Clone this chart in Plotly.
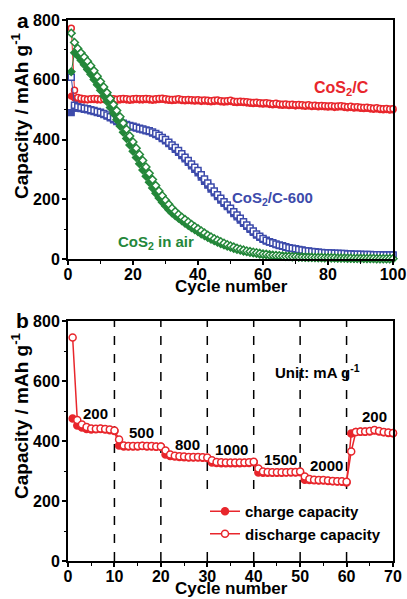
import plotly.graph_objects as go

# ---------------- Panel a: cycling of three materials ----------------
cosc_discharge = [772, 565, 541, 538, 536, 535, 536, 537, 536, 535,
                  536, 537, 536, 536, 535, 536, 537, 536, 535, 536,
                  537, 536, 536, 537, 536, 535, 536, 537, 538, 536,
                  535, 534, 535, 536, 534, 533, 534, 533, 532, 533,
                  531, 532, 531, 530, 531, 532, 530, 529, 530, 531,
                  528, 527, 528, 527, 526, 525, 524, 525, 523, 522,
                  523, 521, 520, 521, 519, 518, 519, 517, 518, 516,
                  517, 516, 515, 516, 514, 515, 513, 514, 513, 512,
                  513, 511, 512, 513, 511, 510, 511, 509, 510, 508,
                  507, 508, 506, 505, 506, 504, 503, 504, 502, 503]
cosc_charge = [545, 538, 535, 533, 532, 532, 533, 533, 532, 532,
               533, 533, 532, 532, 531, 532, 533, 532, 531, 532,
               533, 532, 532, 533, 532, 531, 532, 533, 534, 532,
               531, 530, 531, 532, 530, 529, 530, 529, 528, 529,
               527, 528, 527, 526, 527, 528, 526, 525, 526, 527,
               524, 523, 524, 523, 522, 521, 520, 521, 519, 518,
               519, 517, 516, 517, 515, 514, 515, 513, 514, 512,
               513, 512, 511, 512, 510, 511, 509, 510, 509, 508,
               509, 507, 508, 509, 507, 506, 507, 505, 506, 504,
               503, 504, 502, 501, 502, 500, 499, 500, 498, 499]
c600_discharge = [608, 515, 510, 507, 505, 503, 500, 497, 494, 491,
                  487, 482, 476, 470, 464, 458, 454, 450, 447, 444,
                  441, 438, 435, 432, 429, 425, 420, 414, 407, 400,
                  391, 382, 373, 363, 352, 341, 330, 318, 307, 296,
                  282, 268, 254, 241, 228, 215, 203, 192, 181, 170,
                  158, 147, 136, 125, 114, 104, 94, 84, 76, 69,
                  63, 58, 54, 50, 47, 44, 41, 38, 36, 34,
                  32, 30, 28, 27, 25, 24, 23, 22, 21, 20,
                  20, 19, 19, 18, 18, 17, 17, 16, 16, 16,
                  15, 15, 15, 14, 14, 14, 13, 13, 13, 13]
c600_charge = [490, 505, 505, 503, 501, 499, 496, 493, 490, 487,
               483, 478, 472, 466, 460, 455, 451, 447, 444, 441,
               438, 435, 432, 429, 426, 421, 416, 410, 403, 395,
               386, 377, 367, 357, 346, 335, 323, 312, 300, 288,
               274, 260, 247, 234, 221, 209, 197, 186, 175, 164,
               152, 141, 130, 119, 109, 99, 89, 80, 72, 66,
               60, 56, 52, 48, 45, 42, 39, 37, 35, 33,
               31, 29, 27, 26, 24, 23, 22, 21, 20, 19,
               19, 18, 18, 17, 17, 16, 16, 15, 15, 15,
               14, 14, 14, 13, 13, 13, 12, 12, 12, 12]
air_discharge = [756, 725, 705, 690, 676, 662, 647, 630, 612, 594,
                 576, 557, 537, 517, 497, 476, 455, 434, 412, 392,
                 371, 350, 330, 308, 287, 266, 246, 228, 212, 197,
                 183, 170, 159, 149, 140, 132, 124, 116, 108, 101,
                 94, 87, 80, 74, 68, 63, 58, 53, 48, 44,
                 40, 36, 33, 30, 27, 25, 23, 21, 19, 17,
                 16, 14, 13, 12, 11, 10, 9, 9, 8, 8,
                 7, 7, 6, 6, 6, 5, 5, 5, 4, 4,
                 4, 4, 3, 3, 3, 3, 3, 2, 2, 2,
                 2, 2, 2, 2, 1, 1, 1, 1, 1, 1]
air_charge = [627, 690, 680, 665, 650, 634, 618, 601, 583, 565,
              546, 527, 507, 487, 466, 445, 424, 403, 382, 361,
              340, 319, 298, 277, 257, 238, 220, 204, 190, 177,
              165, 154, 145, 136, 128, 120, 112, 105, 98, 91,
              84, 78, 72, 66, 61, 56, 51, 47, 43, 39,
              35, 32, 29, 26, 24, 22, 20, 18, 16, 15,
              14, 13, 12, 11, 10, 9, 8, 8, 7, 7,
              6, 6, 6, 5, 5, 5, 4, 4, 4, 4,
              3, 3, 3, 3, 3, 2, 2, 2, 2, 2,
              2, 1, 1, 1, 1, 1, 1, 1, 1, 1]

# ---------------- Panel b: rate capability ----------------
rate_charge = [475, 452, 445, 440, 438, 439, 440, 438, 436, 433,
               385, 382, 382, 382, 382, 383, 382, 382, 381, 381,
               355, 350, 348, 347, 346, 345, 345, 345, 344, 343,
               328, 327, 326, 326, 326, 326, 326, 327, 327, 329,
               295, 294, 294, 294, 294, 294, 295, 295, 295, 296,
               271, 270, 269, 268, 268, 267, 266, 265, 264, 262,
               425, 430, 431, 431, 432, 435, 432, 429, 427, 426]
rate_discharge = [745, 470, 455, 447, 442, 441, 442, 440, 438, 435,
                  405, 385, 383, 383, 383, 384, 383, 383, 382, 382,
                  368, 355, 351, 349, 348, 347, 347, 347, 346, 345,
                  336, 330, 329, 328, 328, 328, 328, 328, 329, 331,
                  308, 298, 297, 296, 296, 296, 296, 297, 297, 298,
                  282, 273, 271, 270, 270, 268, 267, 266, 266, 264,
                  365, 430, 432, 432, 433, 437, 433, 430, 428, 427]
rate_boundaries = [10, 20, 30, 40, 50, 60]
rate_labels = ["200", "500", "800", "1000", "1500", "2000", "200"]

RED = "#e8262c"
BLUE = "#3d4bab"
GREEN = "#24873a"

fig = go.Figure()


def add_material(chg, dis, color, sym):
    fig.add_trace(go.Scatter(
        x=list(range(1, len(chg) + 1)), y=chg, mode="lines+markers", showlegend=False,
        line=dict(color=color, width=1), cliponaxis=False,
        marker=dict(symbol=sym, size=6, color=color, line=dict(color=color, width=1.2)),
        xaxis="x", yaxis="y"))
    fig.add_trace(go.Scatter(
        x=list(range(1, len(dis) + 1)), y=dis, mode="lines+markers", showlegend=False,
        line=dict(color=color, width=1), cliponaxis=False,
        marker=dict(symbol=sym, size=6, color="white", line=dict(color=color, width=1.5)),
        xaxis="x", yaxis="y"))


add_material(cosc_charge, cosc_discharge, RED, "circle")
add_material(c600_charge, c600_discharge, BLUE, "square")
add_material(air_charge, air_discharge, GREEN, "diamond")

fig.add_trace(go.Scatter(
    x=list(range(1, len(rate_charge) + 1)), y=rate_charge, mode="lines+markers",
    name="charge capacity", line=dict(color=RED, width=1.5), cliponaxis=False,
    marker=dict(symbol="circle", size=7, color=RED, line=dict(color=RED, width=1.5)),
    xaxis="x2", yaxis="y2"))
fig.add_trace(go.Scatter(
    x=list(range(1, len(rate_discharge) + 1)), y=rate_discharge, mode="lines+markers",
    name="discharge capacity", line=dict(color=RED, width=1.5), cliponaxis=False,
    marker=dict(symbol="circle", size=7, color="white", line=dict(color=RED, width=1.5)),
    xaxis="x2", yaxis="y2"))

for xb in rate_boundaries:
    fig.add_shape(type="line", xref="x2", yref="y2", x0=xb, x1=xb, y0=0, y1=800,
                  line=dict(color="black", width=1.5, dash="dash"), layer="below")


def axis_common(standoff):
    return dict(
        ticks="outside", ticklen=4, tickwidth=1.5, tickcolor="black",
        showline=True, linewidth=2, linecolor="black", mirror=True,
        showgrid=False, zeroline=False, tick0=0,
        tickfont=dict(size=16), ticklabelstandoff=standoff,
    )


def minor(dt):
    return dict(dtick=dt, ticks="outside", ticklen=2.5, tickwidth=1.2, tickcolor="black")


xa = axis_common(-4)
xa.update(domain=[68 / 407, 393 / 407], range=[0, 100], dtick=20, anchor="y", minor=minor(10))
ya = axis_common(-1)
ya.update(domain=[1 - 259 / 599, 1 - 20 / 599], range=[0, 800], dtick=200, anchor="x", minor=minor(100))
xb_ = axis_common(-4)
xb_.update(domain=[68 / 407, 393 / 407], range=[0, 70], dtick=10, anchor="y2", minor=minor(5))
yb = axis_common(-1)
yb.update(domain=[1 - 561 / 599, 1 - 321 / 599], range=[0, 800], dtick=200, anchor="x2", minor=minor(100))

ytitle = "Capacity / mAh g<sup>-1</sup>"
xtitle = "Cycle number"


def paper_text(text, px, py, size, angle=0, color="black"):
    return dict(text=text, x=px / 407, y=1 - py / 599, xref="paper", yref="paper",
                showarrow=False, textangle=angle, font=dict(size=size, color=color),
                xanchor="center", yanchor="middle")


annotations = [
    paper_text("a", 23, 21, 21),
    paper_text("b", 22, 320, 21),
    paper_text(xtitle, 231, 286, 17),
    paper_text(xtitle, 231, 588, 17),
    paper_text(ytitle, 20, 116, 19, angle=-90),
    paper_text(ytitle, 20, 416, 19, angle=-90),
    dict(text="CoS<sub>2</sub>/C", x=84, y=571, xref="x", yref="y", showarrow=False,
         font=dict(size=16, color=RED)),
    dict(text="CoS<sub>2</sub>/C-600", x=63, y=202, xref="x", yref="y", showarrow=False,
         font=dict(size=15, color=BLUE)),
    dict(text="CoS<sub>2</sub> in air", x=27, y=54, xref="x", yref="y", showarrow=False,
         font=dict(size=15, color=GREEN)),
    dict(text="Unit: mA g<sup>-1</sup>", x=53.7, y=633, xref="x2", yref="y2", showarrow=False,
         font=dict(size=15)),
]
label_pos = [(6.0, 493), (15.9, 427), (25.7, 388), (35.3, 372), (45.7, 340), (55.7, 317), (66.0, 481)]
for txt, (lx, ly) in zip(rate_labels, label_pos):
    annotations.append(dict(text=txt, x=lx, y=ly, xref="x2", yref="y2", showarrow=False,
                            font=dict(size=15)))

fig.update_layout(
    width=407, height=599, margin=dict(l=0, r=0, t=0, b=0, autoexpand=False),
    paper_bgcolor="white", plot_bgcolor="white",
    font=dict(family="Liberation Sans, Arial, sans-serif", size=15, color="black", weight="bold"),
    xaxis=xa, yaxis=ya, xaxis2=xb_, yaxis2=yb,
    annotations=annotations,
    showlegend=True,
    legend=dict(x=205 / 407, y=1 - 495 / 599, xanchor="left", yanchor="top",
                bgcolor="white", borderwidth=0, font=dict(size=15)),
)

fig.write_html("out.html", config={"displayModeBar": False},
               post_script="document.body.style.margin='0px';document.body.style.overflow='hidden';")
